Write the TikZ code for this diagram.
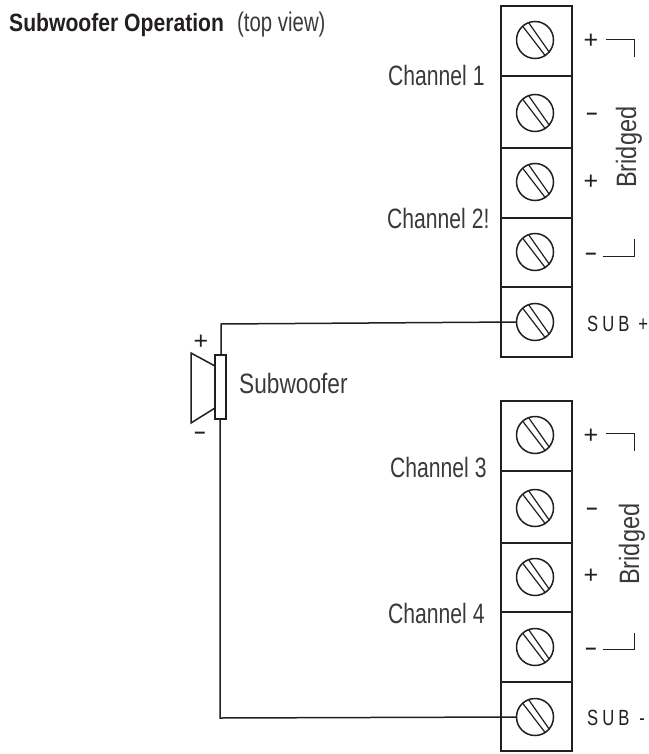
\documentclass[tikz,border=0pt]{standalone}
\usepackage{fontspec}
\setmainfont[FakeStretch=0.755]{Liberation Sans}
\newfontfamily\boldcond[FakeStretch=0.845]{Liberation Sans Bold}
\newfontfamily\signfont{Liberation Sans}
\newfontfamily\negfont{Liberation Sans Bold}
\newfontfamily\widelab[FakeStretch=0.81]{Liberation Sans}
\newfontfamily\widerlab[FakeStretch=0.84]{Liberation Sans}
\definecolor{ink}{HTML}{231F20}
\definecolor{soft}{HTML}{3A3A3C}
\usetikzlibrary{calc}
\tikzset{
  x=1pt,y=-1pt,
  line/.style={draw=ink,line width=1.5pt},
  thin line/.style={draw=ink,line width=0.8pt},
  screw/.style={circle,draw=ink,line width=1.5pt,minimum size=37pt,inner sep=0pt,fill=white},
  lab/.style={text=soft,font=\fontsize{28}{30}\selectfont,inner sep=0pt,anchor=base west},
  sign/.style={text=ink,font=\signfont\fontsize{25}{27}\selectfont,inner sep=0pt,yshift=-1.5pt},
  neg/.style={text=ink,font=\negfont\fontsize{20}{22}\selectfont,inner sep=0pt,yshift=-3pt},
  sublab/.style={text=ink,font=\fontsize{22}{24}\selectfont,inner sep=0pt,anchor=base west},
}
\newcommand{\slotted}[1]{%
  \draw[draw=ink,line width=1.2pt] ($(#1.center)+(-12.5,-14)$) -- ($(#1.center)+(10.5,16)$);
  \draw[draw=ink,line width=1.2pt] ($(#1.center)+(-6.5,-17.5)$) -- ($(#1.center)+(14.5,12.5)$);
}
\begin{document}
\begin{tikzpicture}
\useasboundingbox (0,0) rectangle (648,754);
% title
\node[anchor=base west,inner sep=0pt,text=ink,font=\boldcond\fontsize{25}{27}\selectfont] (title) at (9,32) {Subwoofer Operation};
\node[lab,font=\fontsize{27}{29}\selectfont] (view) at (237,32) {(top view)};
% top terminal block
\draw[line] (501,6) rectangle (572,357);
\foreach \yy in {76,148,218,287} \draw[line] (501,\yy) -- (572,\yy);
\node[screw] (a1) at (535,40) {};
\node[screw] (a2) at (535,113) {};
\node[screw] (a3) at (535,182) {};
\node[screw] (a4) at (535,252) {};
\node[screw] (a5) at (535,322) {};
% bottom terminal block
\draw[line] (501,401) rectangle (572,751);
\foreach \yy in {471,543,612,682} \draw[line] (501,\yy) -- (572,\yy);
\node[screw] (b1) at (535,435) {};
\node[screw] (b2) at (535,508) {};
\node[screw] (b3) at (535,577) {};
\node[screw] (b4) at (535,647) {};
\node[screw] (b5) at (535,717) {};
\foreach \n in {a1,a2,a3,a4,a5,b1,b2,b3,b4,b5} {\slotted{\n}}
% speaker
\node[draw=ink,line width=1.5pt,minimum width=11pt,minimum height=64pt,inner sep=0pt] (spk) at (220.5,387) {};
\draw[line,line join=miter] (215,366) -- (191,353) -- (191,423) -- (215,408);
% wires
\coordinate (ca) at (221,324);
\coordinate (cb) at (220,718);
\draw[line] (a5.west) -- (ca) -- (spk.north -| ca);
\draw[line] (b5.west) -- (cb) -- (spk.south -| cb);
% speaker labels
\node[sign] (sp) at (201,341) {+};
\node[neg] (sm) at (200,432) {–};
\node[lab,font=\widelab\fontsize{28}{30}\selectfont] (sw) at (239,393) {Subwoofer};
% channels
\node[lab] (c1) at (388,86) {Channel 1};
\node[lab] (c2) at (387,228) {Channel 2!};
\node[lab] (c3) at (390,477) {Channel 3};
\node[lab] (c4) at (388,623) {Channel 4};
% signs top
\node[sign] (p1) at (591,40) {+};
\node[neg] (m1) at (592,113) {–};
\node[sign] (p2) at (591,181) {+};
\node[neg] (m2) at (591,253) {–};
\node[sublab] (s1) at (587,331) {S\hspace{4pt}U\hspace{4pt}B\hspace{9pt}+};
% signs bottom
\node[sign] (p3) at (591,435) {+};
\node[neg] (m3) at (592,508) {–};
\node[sign] (p4) at (591,575) {+};
\node[neg] (m4) at (591,648) {–};
\node[sublab] (s2) at (587,725) {S\hspace{4pt}U\hspace{4pt}B\hspace{10pt}-};
% brackets
\draw[thin line] (606,39) -- (634,39) -- (634,57);
\draw[thin line] (603,256) -- (634,256) -- (634,239);
\draw[thin line] (606,433) -- (634,433) -- (634,451);
\draw[thin line] (603,649) -- (634,649) -- (634,633);
\node[lab,font=\widerlab\fontsize{28}{30}\selectfont,rotate=90] (br1) at (636,188) {Bridged};
\node[lab,font=\widerlab\fontsize{28}{30}\selectfont,rotate=90] (br2) at (639,585) {Bridged};
\end{tikzpicture}
\end{document}
